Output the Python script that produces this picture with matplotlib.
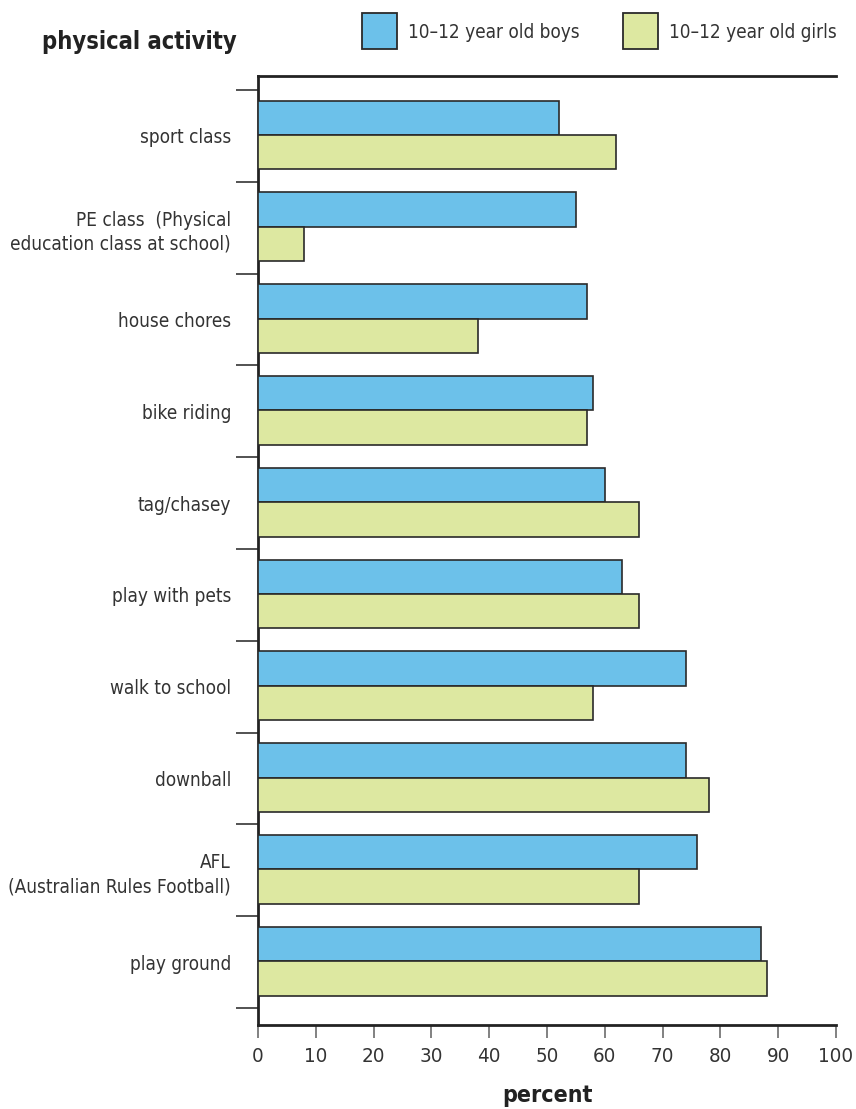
import matplotlib
matplotlib.use("Agg")
import matplotlib.pyplot as plt
from matplotlib.patches import Rectangle
from matplotlib import font_manager

entries = font_manager.fontManager.ttflist
names = {f.name for f in entries}
STRETCH = "normal"
if "Liberation Sans Narrow" in names:
    FAM = ["Liberation Sans Narrow", "DejaVu Sans"]
elif any(f.name == "DejaVu Sans" and "ondensed" in f.fname for f in entries):
    FAM = ["DejaVu Sans"]
    STRETCH = "condensed"
elif "Roboto" in names:
    FAM = ["Roboto", "DejaVu Sans"]
else:
    FAM = ["DejaVu Sans"]
plt.rcParams['font.family'] = FAM
plt.rcParams['font.stretch'] = STRETCH

categories = ["sport class",
              "PE class  (Physical\neducation class at school)",
              "house chores",
              "bike riding",
              "tag/chasey",
              "play with pets",
              "walk to school",
              "downball",
              "AFL\n(Australian Rules Football)",
              "play ground"]
boys = [52, 55, 57, 58, 60, 63, 74, 74, 76, 87]
girls = [62, 8, 38, 57, 66, 66, 58, 78, 66, 88]
xticks = list(range(0, 101, 10))
series_names = ["10\u201312 year old boys", "10\u201312 year old girls"]

BLUE = "#6cc1ea"
GREEN = "#dde8a1"
EDGE = "#2a2a2a"
TXT = "#333333"

fig = plt.figure(figsize=(8.56, 11.09), dpi=100)
renderer = fig.canvas.get_renderer()


def fit_size(text, target_px, maxsize, weight="normal"):
    t = fig.text(0, 0, text, fontsize=10, fontweight=weight)
    w = t.get_window_extent(renderer).width
    t.remove()
    return min(maxsize, 10 * target_px / w)


lab_fs = fit_size("(Australian Rules Football)", 223, 14.5)
leg_fs = fit_size(series_names[0], 172, 15)
title_fs = fit_size("physical activity", 194, 20, "bold")
xl_fs = fit_size("percent", 90, 19, "bold")
tick_fs = fit_size("100", 35, 15)

ax = fig.add_axes([258/856, 1-1025/1109, 578/856, (1025-76)/1109])

n = len(categories)
pos = list(range(n))
h = 0.375
ax.barh([p - 0.01 - h/2 for p in pos], boys, height=h, color=BLUE,
        edgecolor=EDGE, linewidth=1.2, zorder=3)
ax.barh([p - 0.01 + h/2 for p in pos], girls, height=h, color=GREEN,
        edgecolor=EDGE, linewidth=1.2, zorder=3)

ax.set_xlim(0, 100)
ax.set_ylim(9.5 + 17/91.8, -0.5 - 14/91.8)

ax.set_yticks([p - 0.5 for p in pos] + [n - 0.5])
ax.set_yticklabels([])
ax.set_yticks(pos, minor=True)
ax.set_yticklabels(categories, minor=True, fontsize=lab_fs, color=TXT,
                   ha="right", multialignment="right", linespacing=1.35)
ax.tick_params(axis="y", which="major", length=16, width=1.3, color="#444444",
               direction="out")
ax.tick_params(axis="y", which="minor", length=0, pad=19.5)

ax.set_xticks(xticks)
ax.set_xticklabels([str(t) for t in xticks], fontsize=tick_fs, color=TXT)
ax.tick_params(axis="x", length=9, width=1.3, color="#777777", pad=7)

for s in ["left", "bottom", "top"]:
    ax.spines[s].set_linewidth(2.0)
    ax.spines[s].set_color("#222222")
ax.spines["right"].set_visible(False)

ax.set_xlabel("percent", fontsize=xl_fs, fontweight="bold", color="#222222",
              labelpad=13)

fig.text(42/856, 1-42/1109, "physical activity", fontsize=title_fs,
         fontweight="bold", color="#222222", ha="left", va="center")

for x0, col, name in [(362, BLUE, series_names[0]), (623, GREEN, series_names[1])]:
    fig.patches.append(Rectangle((x0/856, 1-49/1109), 35/856, 36/1109,
                                 transform=fig.transFigure, facecolor=col,
                                 edgecolor=EDGE, linewidth=1.3))
    fig.text((x0+46)/856, 1-32/1109, name, fontsize=leg_fs, color=TXT,
             ha="left", va="center")

fig.savefig("out.png", dpi=100)
